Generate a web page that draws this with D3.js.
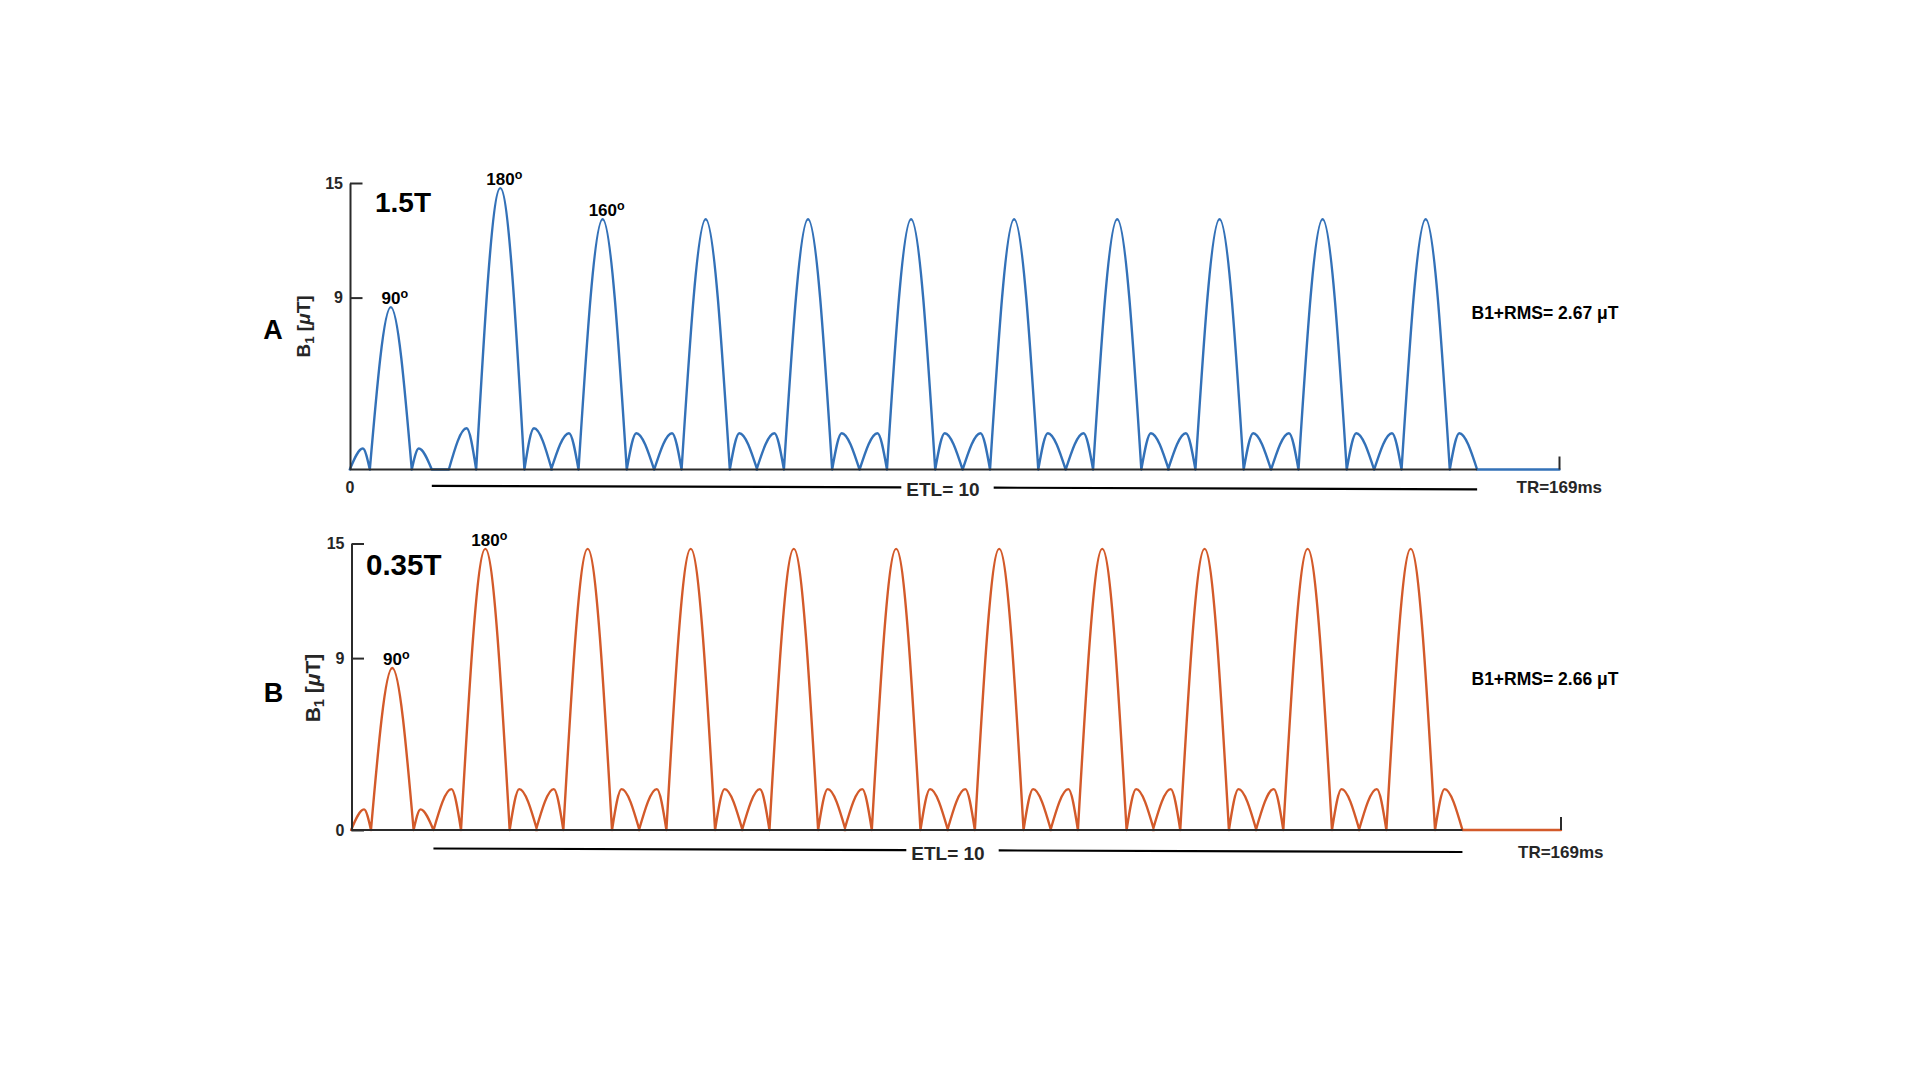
<!DOCTYPE html>
<html>
<head>
<meta charset="utf-8">
<script src="https://cdn.jsdelivr.net/npm/d3@7"></script>
<style>
  body { margin: 0; background: #fff; }
  svg { display: block; }
  text { font-family: "Liberation Sans", Arial, Helvetica, sans-serif; }
</style>
</head>
<body>
<div id="chart"></div>
<script>
// repetition time and echo train length
const TR_MS = 169;
const ETL = 10;

// panel names and labels
const PANEL_NAMES = ["A", "B"];
const FIELD_LABELS = ["1.5T", "0.35T"];
const RMS_LABELS = ["B1+RMS= 2.67 \u03bcT", "B1+RMS= 2.66 \u03bcT"];
const Y_TICKS = [[9, 15], [0, 9, 15]];

// pulse centres (ms)
const A_CENTERS = [5.7, 21.0, 35.3, 49.7, 64.0, 78.4, 92.8, 107.2, 121.5, 135.9, 150.3];
const B_CENTERS = [5.7, 18.7, 33.0, 47.4, 61.8, 76.1, 90.5, 104.9, 119.2, 133.6, 148.0];

// main lobe peak (uT)
const A_PEAKS = [8.5, 14.73, 13.1, 13.1, 13.1, 13.1, 13.1, 13.1, 13.1, 13.1, 13.1];
const B_PEAKS = [8.48, 14.72, 14.72, 14.72, 14.72, 14.72, 14.72, 14.72, 14.72, 14.72, 14.72];

// side lobe peak (uT)
const A_SIDES = [1.1, 2.16, 1.9, 1.9, 1.9, 1.9, 1.9, 1.9, 1.9, 1.9, 1.9];
const B_SIDES = [1.08, 2.14, 2.14, 2.14, 2.14, 2.14, 2.14, 2.14, 2.14, 2.14, 2.14];

// lobe durations (ms): [excitation, refocusing]
const A_MAIN_HALF = [2.93, 3.37];
const A_SIDE_WIDTH = [2.8, 3.82];
const B_MAIN_HALF = [2.98, 3.4];
const B_SIDE_WIDTH = [2.77, 3.83];

// flip angle labels (pulse index -> text)
const A_FLIPS = [[0, "90"], [1, "180"], [2, "160"]];
const B_FLIPS = [[0, "90"], [1, "180"]];

const COLORS = ["#3371b8", "#d35a2a"];
const AXIS_COLOR = "#2b2b2b";

const W = 1920, H = 1080;
const PLOT_W = 1209.5, PLOT_H = 286.5;

const svg = d3.select("#chart").append("svg")
    .attr("width", W)
    .attr("height", H);
svg.append("rect").attr("width", W).attr("height", H).attr("fill", "#fff");

const panels = [
    { centers: A_CENTERS, peaks: A_PEAKS, sides: A_SIDES, mainHalf: A_MAIN_HALF, sideW: A_SIDE_WIDTH,
      flips: A_FLIPS, ox: 350, oy: 183 },
    { centers: B_CENTERS, peaks: B_PEAKS, sides: B_SIDES, mainHalf: B_MAIN_HALF, sideW: B_SIDE_WIDTH,
      flips: B_FLIPS, ox: 351.5, oy: 543.5 }
];

// per-panel text offsets (relative to plot origin)
const layout = [
    { letter: [-77, 155.5], ylab: [-40, 143.5, 19], field: [25, 29, 28], rms: [1121.5, 136], tr: [1166.5, 309.5],
      etl: [593, 312.5], etlY: [302.8, 306.3] },
    { letter: [-78, 158.5], ylab: [-31.5, 144.5, 21], field: [14.5, 31.5, 29.5], rms: [1120, 141], tr: [1166.5, 314],
      etl: [596.5, 316.5], etlY: [305, 308.5] }
];

function lobes(p) {
    // key points of every lobe: zero, lobe peak, zero
    const out = [];
    p.centers.forEach((c, i) => {
        const k = i === 0 ? 0 : 1;
        const h = p.mainHalf[k], w = p.sideW[k];
        const s = p.sides[i];
        out.push([[c - h - w, 0], [c - h - 0.35 * w, s], [c - h, 0]]);
        out.push([[c - h, 0], [c, p.peaks[i]], [c + h, 0]]);
        out.push([[c + h, 0], [c + h + 0.35 * w, s], [c + h + w, 0]]);
    });
    return out;
}

panels.forEach((p, pi) => {
    const L = layout[pi];
    const g = svg.append("g").attr("transform", `translate(${p.ox},${p.oy})`);

    const x = d3.scaleLinear().domain([0, TR_MS]).range([0, PLOT_W]);
    const y = d3.scaleLinear().domain([0, 15]).range([PLOT_H, 0]);

    const line = d3.line().x(d => x(d[0])).y(d => y(d[1])).curve(d3.curveMonotoneX);
    const flat = d3.line().x(d => x(d[0])).y(d => y(d[1]));

    const lb = lobes(p);
    // flat stretches between pulses
    let segs = [];
    let prev = 0;
    lb.forEach(l => {
        if (l[0][0] - prev > 0.01) segs.push(flat([[prev, 0], [l[0][0], 0]]));
        segs.push(line(l));
        prev = l[2][0];
    });
    const trainEnd = prev;
    segs.push(flat([[trainEnd, 0], [TR_MS, 0]]));

    g.append("path")
        .attr("d", segs.join(""))
        .attr("fill", "none")
        .attr("stroke", COLORS[pi])
        .attr("stroke-width", 2.4)
        .attr("stroke-linejoin", "round")
        .attr("stroke-linecap", "round");

    // x baseline up to end of the echo train, tick at TR
    g.append("line")
        .attr("x1", x(0)).attr("x2", x(trainEnd))
        .attr("y1", y(0)).attr("y2", y(0))
        .attr("stroke", AXIS_COLOR).attr("stroke-width", 2.2);
    g.append("line")
        .attr("x1", x(TR_MS)).attr("x2", x(TR_MS))
        .attr("y1", y(0)).attr("y2", y(0) - 13)
        .attr("stroke", AXIS_COLOR).attr("stroke-width", 2);

    // y axis with inward ticks
    const yAxis = g.append("g")
        .call(d3.axisLeft(y).tickValues(Y_TICKS[pi]).tickSizeInner(-12.5).tickSizeOuter(0).tickPadding(7));
    yAxis.select(".domain").attr("stroke", AXIS_COLOR).attr("stroke-width", 2);
    yAxis.selectAll(".tick line").attr("stroke", AXIS_COLOR).attr("stroke-width", 2);
    yAxis.selectAll(".tick text")
        .attr("font-size", 16)
        .attr("font-weight", "bold")
        .attr("font-family", "Liberation Sans, Arial, sans-serif")
        .attr("fill", "#262626");

    if (pi === 0) {
        g.append("text")
            .attr("x", x(0)).attr("y", y(0) + 23)
            .attr("text-anchor", "middle")
            .attr("font-size", 16)
            .attr("font-weight", "bold")
            .attr("fill", "#262626")
            .text("0");
    }

    // panel letter
    g.append("text")
        .attr("x", L.letter[0]).attr("y", L.letter[1])
        .attr("text-anchor", "middle")
        .attr("font-size", 27).attr("font-weight", "bold")
        .text(PANEL_NAMES[pi]);

    // y label B1 [uT]
    const yl = g.append("text")
        .attr("transform", `translate(${L.ylab[0]},${L.ylab[1]}) rotate(-90)`)
        .attr("text-anchor", "middle")
        .attr("font-size", L.ylab[2])
        .attr("font-weight", "bold")
        .attr("fill", "#262626");
    yl.append("tspan").text("B");
    yl.append("tspan").attr("font-size", L.ylab[2] * 0.7).attr("dy", 4).text("1");
    yl.append("tspan").attr("dy", -4).text(" [");
    yl.append("tspan").attr("font-style", "italic").text("\u03bc");
    yl.append("tspan").text("T]");

    // field strength
    g.append("text")
        .attr("x", L.field[0]).attr("y", L.field[1])
        .attr("font-size", L.field[2]).attr("font-weight", "bold")
        .text(FIELD_LABELS[pi]);

    // flip angles
    p.flips.forEach(([idx, label]) => {
        const t = g.append("text")
            .attr("x", x(p.centers[idx]) + 4)
            .attr("y", y(p.peaks[idx]) - 3)
            .attr("text-anchor", "middle")
            .attr("font-size", 17).attr("font-weight", "bold");
        t.append("tspan").text(label);
        t.append("tspan").attr("font-size", 12.5).attr("dy", -6).text("o");
    });

    // B1+RMS
    g.append("text")
        .attr("x", L.rms[0]).attr("y", L.rms[1])
        .attr("font-size", 17.5).attr("font-weight", "bold")
        .text(RMS_LABELS[pi]);

    // TR
    g.append("text")
        .attr("x", L.tr[0]).attr("y", L.tr[1])
        .attr("font-size", 17).attr("font-weight", "bold")
        .attr("fill", "#262626")
        .text(`TR=${TR_MS}ms`);

    // echo train line with label
    const etlText = g.append("text")
        .attr("x", L.etl[0]).attr("y", L.etl[1])
        .attr("text-anchor", "middle")
        .attr("font-size", 19).attr("font-weight", "bold")
        .attr("fill", "#262626")
        .text(`ETL= ${ETL}`);
    const bb = etlText.node().getBBox();
    const x0 = x(p.centers[0] + p.mainHalf[0] + p.sideW[0]);
    const x1 = x(trainEnd);
    const ly = d3.scaleLinear().domain([x0, x1]).range(L.etlY);
    const gapL = bb.x - 5, gapR = bb.x + bb.width + 14;
    [[x0, gapL], [gapR, x1]].forEach(([a, b]) => {
        g.append("line")
            .attr("x1", a).attr("x2", b)
            .attr("y1", ly(a)).attr("y2", ly(b))
            .attr("stroke", "#000").attr("stroke-width", 2.2);
    });
});
</script>
</body>
</html>
